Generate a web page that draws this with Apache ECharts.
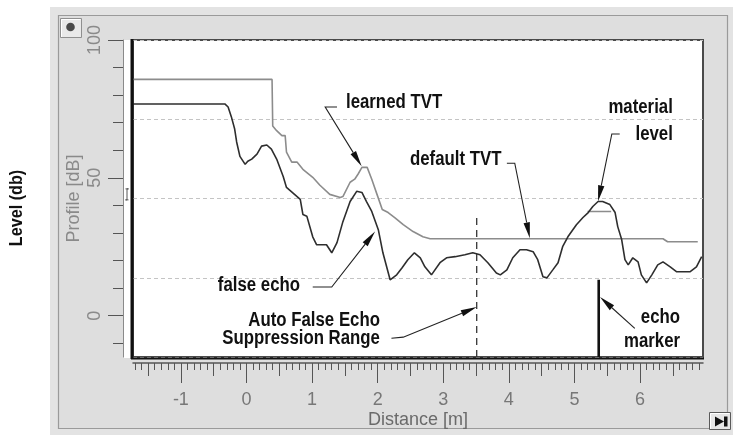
<!DOCTYPE html>
<html>
<head>
<meta charset="utf-8">
<script src="https://cdn.jsdelivr.net/npm/echarts@6/dist/echarts.min.js"></script>
<style>
  html, body { margin: 0; padding: 0; background: #fff; }
  #chart { width: 733px; height: 438px; }
</style>
</head>
<body>
<div id="chart"></div>
<script>
// Axis tick labels
const distanceTicks = [-1, 0, 1, 2, 3, 4, 5, 6];
const profileTicks = [0, 50, 100];

// Echo profile [distance m, level dB]
const echoProfile = [
  [-1.73, 76.8], [-0.33, 76.8], [-0.28, 75.7], [-0.23, 72.1], [-0.18, 67.7], [-0.15, 63.0],
  [-0.10, 57.8], [-0.02, 54.9], [0.02, 56.0], [0.08, 56.8], [0.16, 58.6], [0.23, 61.5],
  [0.31, 61.9], [0.38, 60.4], [0.46, 56.8], [0.56, 50.5], [0.61, 46.5], [0.82, 42.2],
  [0.86, 36.7], [0.92, 36.1], [1.01, 28.6], [1.07, 25.7], [1.22, 25.7], [1.30, 22.8],
  [1.38, 26.5], [1.47, 34.1], [1.58, 41.4], [1.68, 45.1], [1.76, 44.7], [1.83, 41.4],
  [1.91, 37.8], [2.01, 31.2], [2.08, 22.8], [2.19, 13.0], [2.29, 14.8], [2.37, 17.3],
  [2.46, 20.3], [2.56, 22.8], [2.65, 21.0], [2.72, 17.7], [2.82, 14.8], [2.95, 19.2],
  [3.05, 21.0], [3.18, 21.4], [3.33, 22.1], [3.45, 22.8], [3.56, 22.1], [3.68, 19.2],
  [3.81, 15.5], [3.87, 14.8], [3.97, 16.6], [4.06, 21.0], [4.17, 23.9], [4.27, 23.9],
  [4.37, 23.2], [4.44, 20.3], [4.52, 14.1], [4.58, 13.7], [4.67, 16.6], [4.75, 19.2],
  [4.82, 25.0], [4.90, 28.6], [5.03, 33.0], [5.13, 35.6], [5.21, 37.4], [5.28, 39.6],
  [5.36, 41.4], [5.43, 41.4], [5.54, 40.3], [5.62, 37.4], [5.66, 32.3], [5.72, 27.6],
  [5.77, 20.3], [5.82, 18.4], [5.89, 21.0], [5.97, 19.5], [6.02, 14.8], [6.10, 11.9],
  [6.18, 14.8], [6.27, 18.4], [6.35, 19.5], [6.46, 17.7], [6.56, 15.9], [6.76, 15.9],
  [6.86, 17.7], [6.94, 21.4]
];

// TVT curve: learned inside the suppression range, default beyond it
const tvtCurve = [
  [-1.73, 85.7], [0.39, 85.7], [0.40, 68.8], [0.46, 67.1], [0.54, 65.3], [0.59, 65.3],
  [0.61, 59.3], [0.69, 55.7], [0.77, 55.7], [0.86, 53.1], [1.01, 50.2], [1.12, 47.3],
  [1.27, 44.0], [1.43, 42.9], [1.47, 43.2], [1.58, 48.4], [1.65, 49.5], [1.70, 51.3],
  [1.76, 53.8], [1.84, 53.8], [1.91, 49.5], [1.99, 44.0], [2.07, 38.5], [2.16, 37.4],
  [2.26, 35.6], [2.39, 33.0], [2.54, 30.5], [2.69, 28.6], [2.80, 27.9], [6.35, 27.9],
  [6.42, 26.8], [6.88, 26.8]
];

// Echo lock window around the material level
const materialWindow = [[5.20, 37.8], [5.56, 37.8]];

// Auto false echo suppression range limit and echo marker
const suppressionRange = [[3.51, -15], [3.51, 35.8]];
const echoMarker = [[5.37, -15], [5.37, 13.0]];

// Callouts: text lines [label, x, y, align] and leader polylines ending in an arrow
const callouts = [
  { text: [['learned TVT', 2.25, 77.4, 'center']], leader: [[1.38, 75.7], [1.20, 75.7], [1.756, 54.2]] },
  { text: [['default TVT', 3.19, 56.6, 'center']], leader: [[3.97, 55.3], [4.09, 55.3], [4.32, 28.1]] },
  { text: [['material', 6.50, 75.6, 'right'], ['level', 6.50, 65.9, 'right']], leader: [[5.69, 65.9], [5.57, 65.9], [5.36, 41.5]] },
  { text: [['false echo', 0.19, 11.1, 'center']], leader: [[1.01, 10.4], [1.30, 10.4], [1.96, 30.5]] },
  { text: [['Auto False Echo', 2.035, -1.6, 'right'], ['Suppression Range', 2.035, -8.3, 'right']], leader: [[2.21, -8.2], [2.39, -7.8], [3.51, 3.1]] },
  { text: [['echo', 6.61, -0.7, 'right'], ['marker', 6.61, -9.2, 'right']], leader: [[5.92, -4.6], [5.39, 6.75]] }
];

const X_MIN = -1.73, X_MAX = 6.96, Y_MIN = -15, Y_MAX = 100;
const FONT = '"Liberation Sans", Arial, Helvetica, sans-serif';

const minorX = [];
for (let i = -17; i <= 69; i++) minorX.push(i / 10);
const halfX = [-1.5].concat(distanceTicks.map(v => v + 0.5));
const minorY = [];
for (let v = -10; v <= 100; v += 10) minorY.push(v);

const chart = echarts.init(document.getElementById('chart'), null, { renderer: 'canvas' });

const xBase = { type: 'value', min: X_MIN, max: X_MAX, position: 'bottom', offset: 6,
  splitLine: { show: false }, axisLine: { show: false, onZero: false }, axisLabel: { show: false } };
const yBase = { type: 'value', min: Y_MIN, max: Y_MAX, position: 'left', offset: 10,
  splitLine: { show: false }, axisLine: { show: false, onZero: false }, axisLabel: { show: false } };

const option = {
  animation: false,
  grid: {
    left: 133, right: 30, top: 40, bottom: 81,
    show: true, backgroundColor: '#ffffff', borderColor: '#4a4a4a', borderWidth: 2,
    containLabel: false, outerBoundsMode: 'none'
  },
  xAxis: [
    Object.assign({}, xBase, {
      axisLine: { show: true, onZero: false, lineStyle: { color: '#555', width: 1.5 } },
      axisTick: { show: true, customValues: minorX, length: 7, lineStyle: { color: '#555' } },
      name: 'Distance [m]', nameLocation: 'middle', nameGap: 48,
      nameTextStyle: { fontFamily: FONT, fontSize: 18, color: '#6a6a6a' }
    }),
    Object.assign({}, xBase, {
      axisTick: { show: true, customValues: halfX, length: 13, lineStyle: { color: '#555' } }
    }),
    Object.assign({}, xBase, {
      axisTick: { show: true, customValues: distanceTicks, length: 20, lineStyle: { color: '#555' } },
      axisLabel: { show: true, customValues: distanceTicks, margin: 28, fontFamily: FONT, fontSize: 18, color: '#777' }
    })
  ],
  yAxis: [
    Object.assign({}, yBase, {
      axisLine: { show: true, onZero: false, lineStyle: { color: '#8a8a8a', width: 1 } },
      axisTick: { show: true, customValues: minorY, length: 10, lineStyle: { color: '#555' } },
      name: 'Profile [dB]', nameLocation: 'middle', nameRotate: 90, nameGap: 40,
      nameTextStyle: { fontFamily: FONT, fontSize: 18, color: '#8a8a8a' }
    }),
    Object.assign({}, yBase, {
      axisTick: { show: true, customValues: profileTicks, length: 15, lineStyle: { color: '#555' } },
      axisLabel: { show: true, customValues: profileTicks, rotate: 90, margin: 19, fontFamily: FONT, fontSize: 18, color: '#8a8a8a' }
    }),
    {
      // quarter divisions of the plot height
      type: 'value', min: 0, max: 4, interval: 1, position: 'right',
      axisLine: { show: false, onZero: false }, axisTick: { show: false }, axisLabel: { show: false },
      splitLine: { show: true, lineStyle: { color: '#c4c4c4', type: [4, 3], width: 1 } }
    }
  ],
  series: [
    { type: 'line', data: tvtCurve, showSymbol: false, symbol: 'none', z: 3,
      lineStyle: { color: '#8c8c8c', width: 1.6 } },
    { type: 'line', data: materialWindow, showSymbol: false, symbol: 'none', z: 3,
      lineStyle: { color: '#8c8c8c', width: 1.6 } },
    { type: 'line', data: echoProfile, showSymbol: false, symbol: 'none', z: 4,
      lineStyle: { color: '#2e2e2e', width: 1.6 } },
    { type: 'line', data: suppressionRange, showSymbol: false, symbol: 'none', z: 4,
      lineStyle: { color: '#333', width: 1.3, type: [7, 5] } },
    { type: 'line', data: echoMarker, showSymbol: false, symbol: 'none', z: 4,
      lineStyle: { color: '#111', width: 2.6 } }
  ]
};

chart.setOption(option);

// Pixel helper for callouts placed in data space
const toPx = p => chart.convertToPixel({ xAxisIndex: 0, yAxisIndex: 0 }, p);

const graphics = [
  // instrument panel
  { type: 'rect', z: -20, shape: { x: 50, y: 7, width: 683, height: 428 }, style: { fill: '#e3e3e3' } },
  { type: 'rect', z: -19, shape: { x: 58.5, y: 15.5, width: 669, height: 413 }, style: { fill: '#dedede', stroke: '#9a9a9a', lineWidth: 1.2 } },
  // strip between scale and plot
  { type: 'rect', z: -18, shape: { x: 124, y: 40, width: 8, height: 318 }, style: { fill: '#ffffff' } },
  // heavy plot edges
  { type: 'line', z: 20, shape: { x1: 132, y1: 39, x2: 132, y2: 359 }, style: { stroke: '#111', lineWidth: 3 } },
  { type: 'line', z: 20, shape: { x1: 131, y1: 358.5, x2: 704, y2: 358.5 }, style: { stroke: '#111', lineWidth: 2 } },
  // top-left button
  { type: 'rect', z: 5, shape: { x: 60.5, y: 18.5, width: 21, height: 19 }, style: { fill: '#e9e9e9', stroke: '#8f8f8f', lineWidth: 1 } },
  { type: 'polyline', z: 6, shape: { points: [[61.5, 37], [61.5, 19.5], [80.5, 19.5]] }, style: { stroke: '#fff', lineWidth: 1, fill: null } },
  { type: 'circle', z: 6, shape: { cx: 70.5, cy: 27, r: 4.3 }, style: { fill: '#4a4a4a' } },
  // bottom-right button
  { type: 'rect', z: 5, shape: { x: 709.5, y: 412.5, width: 21, height: 17 }, style: { fill: '#e6e6e6', stroke: '#5a5a5a', lineWidth: 1 } },
  { type: 'polyline', z: 6, shape: { points: [[710.5, 429], [710.5, 413.5], [729.5, 413.5]] }, style: { stroke: '#fff', lineWidth: 1, fill: null } },
  { type: 'polygon', z: 6, shape: { points: [[715, 416.5], [715, 426.5], [724, 421.5]] }, style: { fill: '#111' } },
  { type: 'rect', z: 6, shape: { x: 724, y: 416.5, width: 3.5, height: 10 }, style: { fill: '#111' } },
  // outer axis title
  { type: 'text', z: 5, x: 16.5, y: 208, rotation: Math.PI / 2, scaleX: 0.85,
    style: { text: 'Level (db)', font: 'bold 19px ' + FONT, fill: '#111', align: 'center', verticalAlign: 'middle' } }
];

// level cursor on the scale strip
const cur = toPx([X_MIN, 44]);
graphics.push({ type: 'polyline', z: 6, shape: { points: [[125.5, cur[1] - 5.5], [128.5, cur[1] - 5.5], [127, cur[1] - 5.5], [127, cur[1] + 5.5], [125.5, cur[1] + 5.5], [128.5, cur[1] + 5.5]] },
  style: { stroke: '#555', lineWidth: 1, fill: null } });

callouts.forEach(c => {
  c.text.forEach(([label, x, y, align]) => {
    const p = toPx([x, y]);
    graphics.push({ type: 'text', z: 30, x: p[0], y: p[1], scaleX: 0.84,
      style: { text: label, font: 'bold 20px ' + FONT, fill: '#111', align: align, verticalAlign: 'middle' } });
  });
  const pts = c.leader.map(toPx);
  const tip = pts[pts.length - 1];
  const prev = pts[pts.length - 2];
  const dx = tip[0] - prev[0], dy = tip[1] - prev[1];
  const len = Math.hypot(dx, dy);
  const ux = dx / len, uy = dy / len;
  const L = 16, W = 3.2;
  const bx = tip[0] - ux * L, by = tip[1] - uy * L;
  const linePts = pts.slice(0, -1).concat([[bx, by]]);
  graphics.push({ type: 'polyline', z: 30, shape: { points: linePts }, style: { stroke: '#222', lineWidth: 1.1, fill: null } });
  graphics.push({ type: 'polygon', z: 30, shape: { points: [tip, [bx - uy * W, by + ux * W], [bx + uy * W, by - ux * W]] }, style: { fill: '#111' } });
});

chart.setOption({ graphic: { elements: graphics } });
</script>
</body>
</html>
